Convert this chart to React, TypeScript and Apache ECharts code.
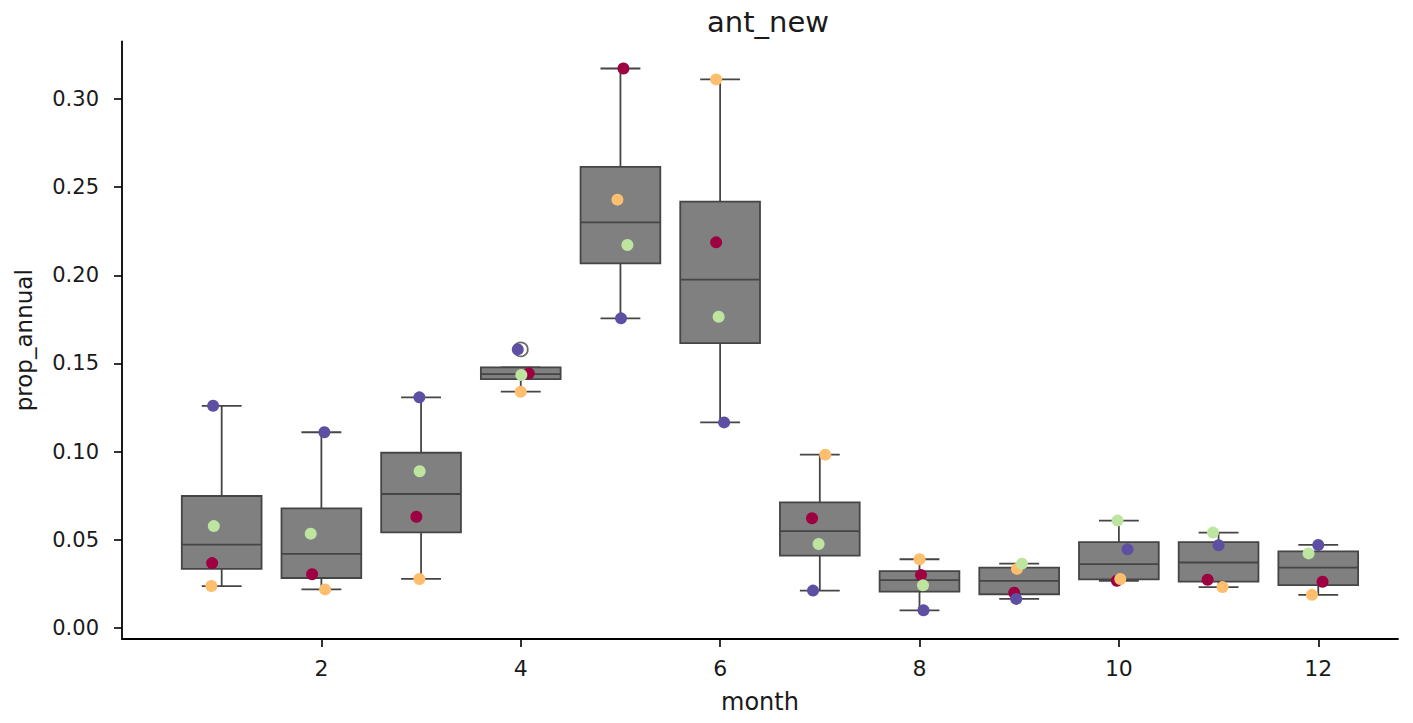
import React, { useEffect, useRef } from "react";
import * as echarts from "echarts";

// ---- data ----
const MONTHS = [1, 2, 3, 4, 5, 6, 7, 8, 9, 10, 11, 12];
// four groups (hue order: crimson, orange, green, purple)
const RED = [0.0368, 0.0305, 0.0631, 0.1444, 0.3173, 0.2187, 0.0622, 0.0300, 0.0200, 0.0268, 0.0274, 0.0262];
const ORANGE = [0.0238, 0.0219, 0.0278, 0.1340, 0.2429, 0.3111, 0.0983, 0.0390, 0.0335, 0.0278, 0.0232, 0.0188];
const GREEN = [0.0578, 0.0535, 0.0889, 0.1435, 0.2172, 0.1765, 0.0476, 0.0242, 0.0365, 0.0609, 0.0541, 0.0423];
const PURPLE = [0.1260, 0.1110, 0.1308, 0.1580, 0.1756, 0.1166, 0.0212, 0.0100, 0.0165, 0.0446, 0.0469, 0.0471];
// strip-plot jitter (in months)
const RED_J = [-0.096, -0.093, -0.047, 0.08, 0.03, -0.04, -0.078, 0.015, -0.05, -0.02, -0.11, 0.043];
const ORANGE_J = [-0.104, 0.037, -0.017, 0.0, -0.03, -0.04, 0.055, 0.0, -0.022, 0.014, 0.04, -0.063];
const GREEN_J = [-0.079, -0.107, -0.014, 0.006, 0.07, -0.015, -0.012, 0.035, 0.028, -0.013, -0.056, -0.097];
const PURPLE_J = [-0.086, 0.03, -0.017, -0.03, 0.006, 0.04, -0.068, 0.04, -0.03, 0.087, 0.0, 0.0];

const Y_TICKS = [0, 0.05, 0.1, 0.15, 0.2, 0.25, 0.3];
const X_TICKS = [2, 4, 6, 8, 10, 12];

const GROUPS = [
  { name: "g1", values: RED, jitter: RED_J, color: "#9e0142" },
  { name: "g2", values: ORANGE, jitter: ORANGE_J, color: "#fdbe6e" },
  { name: "g3", values: GREEN, jitter: GREEN_J, color: "#bee5a0" },
  { name: "g4", values: PURPLE, jitter: PURPLE_J, color: "#5e4fa2" },
];

function quantile(sorted: number[], p: number) {
  const pos = (sorted.length - 1) * p;
  const lo = Math.floor(pos);
  const hi = Math.ceil(pos);
  return sorted[lo] + (sorted[hi] - sorted[lo]) * (pos - lo);
}

function boxStats() {
  const boxes: number[][] = [];
  const fliers: number[][] = [];
  MONTHS.forEach((m, i) => {
    const vals = GROUPS.map((g) => g.values[i]).sort((a, b) => a - b);
    const q1 = quantile(vals, 0.25);
    const med = quantile(vals, 0.5);
    const q3 = quantile(vals, 0.75);
    const iqr = q3 - q1;
    const loF = q1 - 1.5 * iqr;
    const hiF = q3 + 1.5 * iqr;
    const inHi = vals.filter((v) => v <= hiF);
    const inLo = vals.filter((v) => v >= loF);
    let wHi = inHi.length ? Math.max(...inHi) : q3;
    if (wHi < q3) wHi = q3;
    let wLo = inLo.length ? Math.min(...inLo) : q1;
    if (wLo > q1) wLo = q1;
    boxes.push([m, wLo, q1, med, q3, wHi]);
    vals.forEach((v) => {
      if (v < wLo || v > wHi) fliers.push([m, v]);
    });
  });
  return { boxes, fliers };
}

const FONT = "DejaVu Sans";
const BOX_HALF = 0.4;
const CAP_HALF = 0.2;
const EDGE = "#454545";

export default function App() {
  const ref = useRef<HTMLDivElement>(null);
  useEffect(() => {
    if (!ref.current) return;
    const chart = echarts.init(ref.current, undefined, { renderer: "svg" });
    const { boxes, fliers } = boxStats();

    const renderBox = (params: any, api: any) => {
      const x = api.value(0);
      const lo = api.value(1);
      const q1 = api.value(2);
      const med = api.value(3);
      const q3 = api.value(4);
      const hi = api.value(5);
      const tl = api.coord([x - BOX_HALF, q3]);
      const br = api.coord([x + BOX_HALF, q1]);
      const mL = api.coord([x - BOX_HALF, med]);
      const mR = api.coord([x + BOX_HALF, med]);
      const c = api.coord([x, lo]);
      const cHi = api.coord([x, hi]);
      const capL = api.coord([x - CAP_HALF, lo]);
      const capR = api.coord([x + CAP_HALF, lo]);
      const capLh = api.coord([x - CAP_HALF, hi]);
      const capRh = api.coord([x + CAP_HALF, hi]);
      const ls = { stroke: EDGE, lineWidth: 1.8 };
      return {
        type: "group",
        children: [
          { type: "line", shape: { x1: c[0], y1: c[1], x2: c[0], y2: br[1] }, style: ls },
          { type: "line", shape: { x1: cHi[0], y1: cHi[1], x2: cHi[0], y2: tl[1] }, style: ls },
          { type: "line", shape: { x1: capL[0], y1: capL[1], x2: capR[0], y2: capR[1] }, style: ls },
          { type: "line", shape: { x1: capLh[0], y1: capLh[1], x2: capRh[0], y2: capRh[1] }, style: ls },
          {
            type: "rect",
            shape: { x: tl[0], y: tl[1], width: br[0] - tl[0], height: br[1] - tl[1] },
            style: { fill: "#808080", stroke: EDGE, lineWidth: 1.8 },
          },
          { type: "line", shape: { x1: mL[0], y1: mL[1], x2: mR[0], y2: mR[1] }, style: ls },
        ],
      };
    };

    const option: any = {
      animation: false,
      backgroundColor: "#ffffff",
      textStyle: { fontFamily: FONT },
      title: {
        text: "ant_new",
        left: 702,
        top: 2,
        textStyle: { fontFamily: FONT, fontSize: 29, fontWeight: "normal", color: "#1a1a1a" },
      },
      grid: { left: 122, right: 15, top: 41.5, bottom: 84, containLabel: false },
      xAxis: {
        type: "value",
        min: 0,
        max: 12.8,
        name: "month",
        nameLocation: "middle",
        nameGap: 51,
        nameTextStyle: { fontFamily: FONT, fontSize: 24, color: "#1a1a1a" },
        axisLine: { show: true, onZero: false, lineStyle: { color: "#000", width: 1.8 } },
        axisTick: { show: true, length: 8, customValues: X_TICKS, lineStyle: { color: "#000", width: 1.6 } },
        axisLabel: {
          customValues: X_TICKS,
          margin: 18,
          fontFamily: FONT,
          fontSize: 22,
          color: "#1a1a1a",
        },
        splitLine: { show: false },
      },
      yAxis: {
        type: "value",
        min: -0.00624,
        max: 0.3326,
        name: "prop_annual",
        nameLocation: "middle",
        nameGap: 87,
        nameTextStyle: { fontFamily: FONT, fontSize: 23, color: "#1a1a1a" },
        axisLine: { show: true, onZero: false, lineStyle: { color: "#000", width: 1.8 } },
        axisTick: { show: true, length: 8, customValues: Y_TICKS, lineStyle: { color: "#000", width: 1.6 } },
        axisLabel: {
          customValues: Y_TICKS,
          margin: 23,
          fontFamily: FONT,
          fontSize: 21,
          color: "#1a1a1a",
          formatter: (v: number) => v.toFixed(2),
        },
        splitLine: { show: false },
      },
      series: [
        {
          type: "custom",
          name: "box",
          renderItem: renderBox,
          encode: { x: 0, y: [1, 2, 3, 4, 5] },
          data: boxes,
          z: 1,
        },
        {
          type: "scatter",
          name: "outliers",
          data: fliers,
          symbol: "circle",
          symbolSize: 14,
          itemStyle: { color: "rgba(0,0,0,0)", borderColor: EDGE, borderWidth: 1.8 },
          z: 2,
        },
        ...GROUPS.map((g, gi) => ({
          type: "scatter",
          name: g.name,
          data: MONTHS.map((m, i) => [m + g.jitter[i], g.values[i]]),
          symbol: "circle",
          symbolSize: 12,
          itemStyle: { color: g.color, opacity: 1 },
          z: 3 + gi,
        })),
      ],
    };
    chart.setOption(option);
    return () => chart.dispose();
  }, []);
  return (
    <div
      ref={ref}
      style={{ position: "fixed", left: 0, top: 0, width: 1413, height: 723, background: "#fff" }}
    />
  );
}
